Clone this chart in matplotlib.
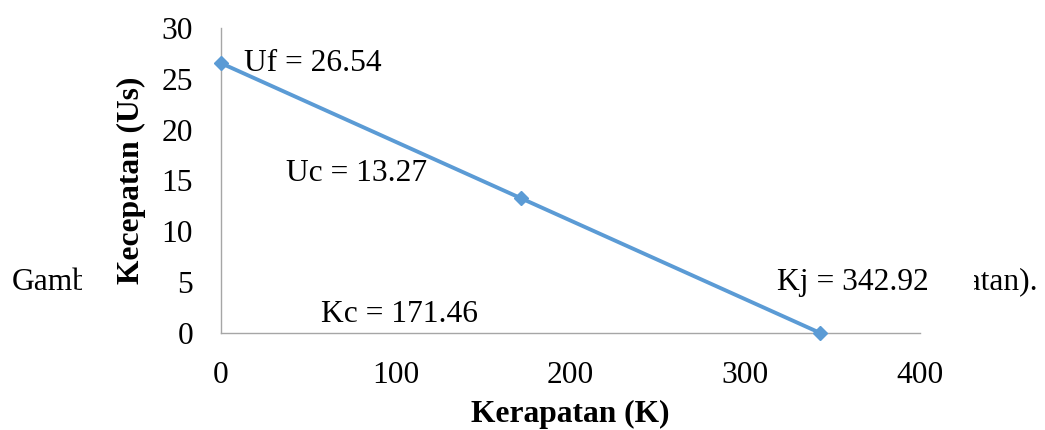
import matplotlib
matplotlib.use("Agg")
import matplotlib.pyplot as plt
from matplotlib.patches import Rectangle

# Data
kerapatan = [0, 171.46, 342.92]
kecepatan = [26.54, 13.27, 0]
x_ticks = [0, 100, 200, 300, 400]
y_ticks = [0, 5, 10, 15, 20, 25, 30]
labels = ["Uf = 26.54", "Uc = 13.27", "Kc = 171.46", "Kj = 342.92"]
label_pos = [(13, 26.5), (37, 15.7), (57, 1.8), (318, 5.0)]

plt.rcParams['font.family'] = ['Liberation Serif', 'DejaVu Serif']
FS = 22.7

W, H = 1045, 430
fig = plt.figure(figsize=(W / 100, H / 100), dpi=100)
ax = fig.add_axes([221 / W, 1 - 333 / H, (920 - 221) / W, (333 - 28) / H])
ax.set_zorder(2)
ax.patch.set_facecolor('none')

# background caption fragments (partly hidden by chart)
fig.text(12 / W, 1 - 282 / H, "Gamb", fontsize=FS, va='center', ha='left', zorder=0.5)
fig.text(1038 / W, 1 - 282 / H, "patan).", fontsize=FS, va='center', ha='right', zorder=0.5)
fig.patches.append(Rectangle((82 / W, 0), (974 - 82) / W, 1, transform=fig.transFigure,
                             facecolor='white', edgecolor='none', zorder=1))

ax.plot(kerapatan, kecepatan, color='#5B9BD5', linewidth=2.8, marker='D',
        markersize=7.5, clip_on=False, zorder=3)

for t, (x, y) in zip(labels, label_pos):
    ax.text(x, y, t, fontsize=FS, ha='left', va='center')

ax.set_xlim(0, 400)
ax.set_ylim(0, 30)
ax.set_xticks(x_ticks)
ax.set_yticks(y_ticks)
ax.tick_params(length=0, labelsize=FS, colors='black')
ax.tick_params(axis='y', pad=20)
ax.tick_params(axis='x', pad=20)
for s in ['top', 'right']:
    ax.spines[s].set_visible(False)
for s in ['left', 'bottom']:
    ax.spines[s].set_color('#A6A6A6')
    ax.spines[s].set_linewidth(1.0)

ax.set_xlabel("Kerapatan (K)", fontsize=FS, fontweight='bold', labelpad=7)
ax.set_ylabel("Kecepatan (Us)", fontsize=FS, fontweight='bold', labelpad=11)

fig.savefig("out.png", dpi=100)
